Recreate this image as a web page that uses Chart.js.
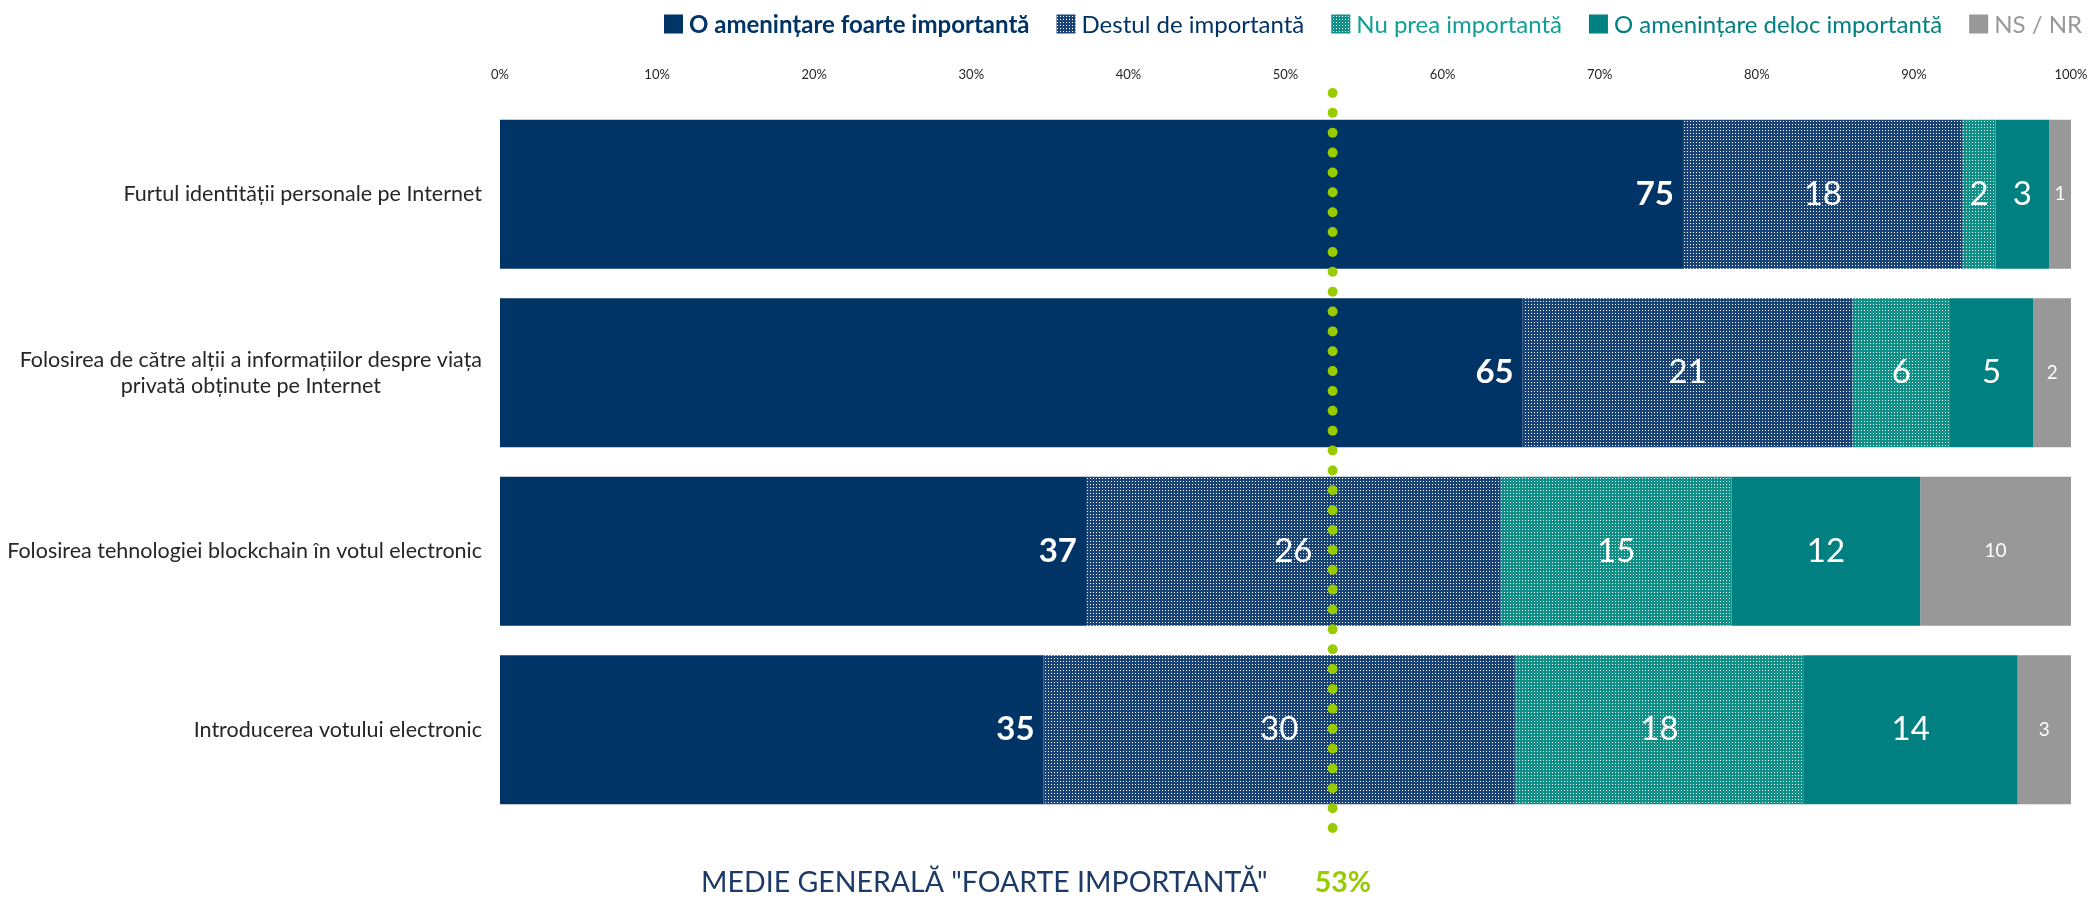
<!DOCTYPE html>
<html>
<head>
<meta charset="utf-8">
<script src="https://cdn.jsdelivr.net/npm/chart.js@4.4.0/dist/chart.umd.min.js"></script>
<style>
  html, body { margin: 0; padding: 0; background: #fff; overflow: hidden; }
  canvas { display: block; }
</style>
</head>
<body>
<canvas id="chart" width="2089" height="899"></canvas>
<script>
const categories = [
  ['Furtul identității personale pe Internet'],
  ['Folosirea de către alții a informațiilor despre viața', 'privată obținute pe Internet'],
  ['Folosirea tehnologiei blockchain în votul electronic'],
  ['Introducerea votului electronic']
];
const seriesNames = [
  'O amenințare foarte importantă',
  'Destul de importantă',
  'Nu prea importantă',
  'O amenințare deloc importantă',
  'NS / NR'
];
const foarteImportanta = [75.3, 65.1, 37.3, 34.6];
const destulDeImportanta = [17.8, 21.0, 26.4, 30.0];
const nuPreaImportanta = [2.1, 6.2, 14.7, 18.4];
const delocImportanta = [3.4, 5.3, 12.0, 13.6];
const nsNr = [1.4, 2.4, 9.6, 3.4];
const xTickValues = [0, 10, 20, 30, 40, 50, 60, 70, 80, 90, 100];
const medieGenerala = 53;
const medieTitlu = 'MEDIE GENERALĂ "FOARTE IMPORTANTĂ"';

const FONT = 'Lato, "Open Sans", sans-serif';
const canvas = document.getElementById('chart');
const ctx = canvas.getContext('2d');

function makePattern(base, dot) {
  const tile = document.createElement('canvas');
  tile.width = 3;
  tile.height = 3;
  const g = tile.getContext('2d');
  g.fillStyle = base;
  g.fillRect(0, 0, 3, 3);
  g.fillStyle = dot;
  g.fillRect(1, 1, 1, 1);
  return ctx.createPattern(tile, 'repeat');
}

const fills = [
  '#003366',
  makePattern('#1a4478', '#ffffff'),
  makePattern('#0f9187', '#ffffff'),
  '#008080',
  '#989898'
];
const legendColors = ['#003366', '#003366', '#11a097', '#008080', '#999999'];
const seriesData = [foarteImportanta, destulDeImportanta, nuPreaImportanta, delocImportanta, nsNr];

// labels, value labels, average line, legend and footer
const overlay = {
  id: 'overlay',
  afterDraw(chart) {
    const c = chart.ctx;
    const area = chart.chartArea;
    const xs = chart.scales.x;
    const ys = chart.scales.y;

    // category labels: block right-aligned, lines centered
    c.save();
    c.font = '21.5px ' + FONT;
    c.fillStyle = '#262626';
    c.textAlign = 'center';
    c.textBaseline = 'middle';
    categories.forEach((lines, i) => {
      const y = ys.getPixelForValue(i);
      const w = Math.max(...lines.map(l => c.measureText(l).width));
      const cx = area.left - 18 - w / 2;
      const y0 = y - (lines.length - 1) * 26 / 2;
      lines.forEach((l, k) => c.fillText(l, cx, y0 + k * 26));
    });
    c.restore();

    // value labels
    chart.data.datasets.forEach((ds, di) => {
      const meta = chart.getDatasetMeta(di);
      meta.data.forEach((bar, i) => {
        const v = Math.round(ds.data[i]);
        c.save();
        c.fillStyle = '#ffffff';
        c.textBaseline = 'middle';
        if (di === 0) {
          c.font = 'bold 33px ' + FONT;
          c.textAlign = 'right';
          c.fillText(v, bar.x - 9, bar.y);
        } else {
          c.font = (di === 4 ? '19px ' : '33px ') + FONT;
          c.textAlign = 'center';
          c.fillText(v, (bar.x + bar.base) / 2, bar.y);
        }
        c.restore();
      });
    });

    // dotted average line
    const ax = xs.getPixelForValue(medieGenerala);
    const top = area.top - 12;
    const bottom = area.bottom + 9;
    const n = 37;
    c.save();
    c.fillStyle = '#99cc00';
    for (let k = 0; k <= n; k++) {
      c.beginPath();
      c.arc(ax, top + (bottom - top) * k / n, 5, 0, Math.PI * 2);
      c.fill();
    }
    c.restore();

    // footer
    c.save();
    c.textBaseline = 'middle';
    c.font = '28.5px ' + FONT;
    c.fillStyle = '#1b3a68';
    c.textAlign = 'right';
    c.fillText(medieTitlu, ax - 65, 883);
    c.font = 'bold 28.5px ' + FONT;
    c.fillStyle = '#99cc00';
    c.textAlign = 'left';
    c.fillText(medieGenerala + '%', ax - 18, 883);
    c.restore();

    // legend, right aligned
    c.save();
    c.textBaseline = 'middle';
    c.textAlign = 'left';
    const items = seriesNames.map((name, i) => {
      const font = (i === 0 ? 'bold ' : '') + '24px ' + FONT;
      c.font = font;
      return { name, i, font, w: c.measureText(name).width };
    });
    const box = 19, gap = 6, spacing = 27;
    const total = items.reduce((s, it) => s + box + gap + it.w, 0) + spacing * (items.length - 1);
    let x = area.right + 11 - total;
    const ly = 24;
    items.forEach(it => {
      c.fillStyle = fills[it.i];
      c.fillRect(x, ly - box / 2, box, box);
      x += box + gap;
      c.font = it.font;
      c.fillStyle = legendColors[it.i];
      c.fillText(it.name, x, ly + 1);
      x += it.w + spacing;
    });
    c.restore();
  }
};

new Chart(ctx, {
  type: 'bar',
  data: {
    labels: categories,
    datasets: seriesNames.map((name, i) => ({
      label: name,
      data: seriesData[i],
      backgroundColor: fills[i],
      borderWidth: 0,
      barPercentage: 1,
      categoryPercentage: 0.835
    }))
  },
  options: {
    indexAxis: 'y',
    responsive: false,
    animation: false,
    layout: { padding: { left: 0, right: 0, top: 0, bottom: 80 } },
    scales: {
      x: {
        position: 'top',
        stacked: true,
        min: 0,
        max: 100,
        afterBuildTicks: (scale) => {
          scale.ticks = xTickValues.map(v => ({ value: v }));
        },
        afterFit: (scale) => {
          scale.height = 105;
          scale.paddingLeft = 0;
          scale.paddingRight = 18;
        },
        grid: { display: false },
        border: { display: false },
        ticks: {
          padding: 14,
          color: '#262626',
          font: { family: FONT, size: 13 },
          callback: (v) => v + '%'
        }
      },
      y: {
        stacked: true,
        afterFit: (scale) => { scale.width = 500; },
        grid: { display: false },
        border: { display: false },
        ticks: { display: false }
      }
    },
    plugins: {
      legend: { display: false },
      tooltip: { enabled: false }
    }
  },
  plugins: [overlay]
});
</script>
</body>
</html>
